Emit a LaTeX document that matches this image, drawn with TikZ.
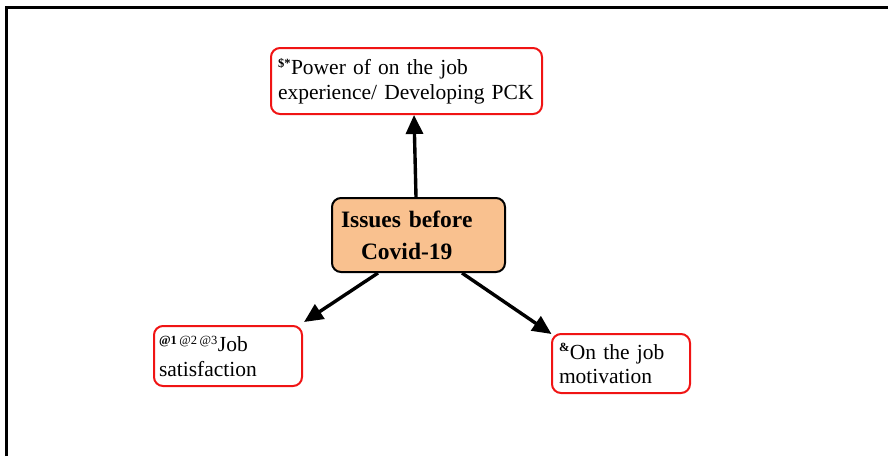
\documentclass[tikz,border=0pt]{standalone}
\usepackage{fontspec}
\setmainfont{Liberation Serif}
\usetikzlibrary{arrows.meta}
\definecolor{boxred}{RGB}{240,20,20}
\definecolor{peach}{RGB}{249,193,143}
\tikzset{
  leaf/.style={draw=boxred, line width=2pt, rounded corners=9pt, fill=white,
    anchor=north west, align=left, inner xsep=6pt, inner ysep=0pt,
    font=\fontsize{21.5}{24.5}\selectfont},
  hub/.style={draw=black, line width=2pt, rounded corners=9pt, fill=peach,
    anchor=north west, align=left, inner xsep=9pt, inner ysep=0pt,
    font=\fontsize{23.5}{32}\selectfont\bfseries},
  conn/.style={line width=3.4pt, -{Triangle[length=19pt,width=17pt]}}
}
\newcommand{\sps}[1]{\textsuperscript{\fontsize{12.5}{13}\selectfont #1}}
\begin{document}
\begin{tikzpicture}[x=1pt,y=-1pt]
\useasboundingbox (0,0) rectangle (888,456);
\draw[line width=3pt] (6,456) -- (6,7) -- (888,7);
% boxes
\node[leaf, minimum width=271, minimum height=66, inner xsep=7pt, text width=257] (top) at (270,47)
  {\sps{\textbf{\$*}}Power of on the job\\experience/ Developing PCK};
\node[hub, minimum width=173, minimum height=74, text width=155] (hub) at (331,197)
  {Issues before\\\hspace*{20pt}Covid-19};
\node[leaf, minimum width=148, minimum height=60, inner xsep=5pt, text width=138] (left) at (153,325)
  {\sps{\textbf{@1}\hspace{2.5pt}@2\hspace{2.5pt}@3}Job\\satisfaction};
\node[leaf, minimum width=138, minimum height=59, inner xsep=7pt, text width=124] (right) at (551,333)
  {\sps{\textbf{\&}}On the job\\motivation};
% connectors
\draw[conn] ([xshift=-2.5]hub.north) -- ([xshift=7.5]top.south);
\draw[conn] ([xshift=-40.5]hub.south) -- ([xshift=1,yshift=3]left.north east);
\draw[conn] ([xshift=43.5]hub.south) -- ([xshift=0.5,yshift=-1]right.north west);
\end{tikzpicture}
\end{document}
